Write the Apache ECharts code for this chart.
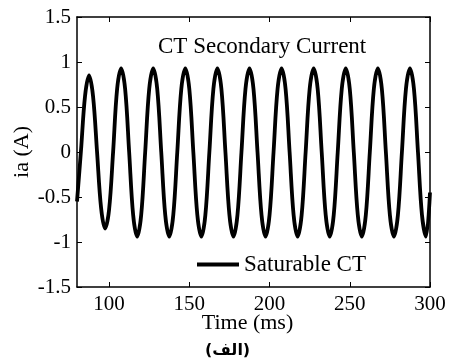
<!DOCTYPE html>
<html>
<head>
<meta charset="utf-8">
<script src="https://cdn.jsdelivr.net/npm/echarts@6/dist/echarts.min.js"></script>
<style>html,body{margin:0;padding:0;background:#fff}#c{width:453px;height:364px}</style>
</head>
<body>
<div id="c"></div>
<script>
const timeMs = [
  80, 82.5, 85, 87.5, 90, 92.5, 95, 97.5, 100, 102.5,
  105, 107.5, 110, 112.5, 115, 117.5, 120, 122.5, 125, 127.5,
  130, 132.5, 135, 137.5, 140, 142.5, 145, 147.5, 150, 152.5,
  155, 157.5, 160, 162.5, 165, 167.5, 170, 172.5, 175, 177.5,
  180, 182.5, 185, 187.5, 190, 192.5, 195, 197.5, 200, 202.5,
  205, 207.5, 210, 212.5, 215, 217.5, 220, 222.5, 225, 227.5,
  230, 232.5, 235, 237.5, 240, 242.5, 245, 247.5, 250, 252.5,
  255, 257.5, 260, 262.5, 265, 267.5, 270, 272.5, 275, 277.5,
  280, 282.5, 285, 287.5, 290, 292.5, 295, 297.5, 300
];
const saturableCT = [
  -0.55, 0.02, 0.62, 0.85, 0.62, 0.0, -0.62, -0.85, -0.64, 0.0,
  0.7, 0.93, 0.7, 0.0, -0.7, -0.94, -0.7, 0.0, 0.7, 0.93,
  0.7, 0.0, -0.7, -0.94, -0.7, 0.0, 0.7, 0.93, 0.7, 0.0,
  -0.7, -0.94, -0.7, 0.0, 0.7, 0.93, 0.7, 0.0, -0.7, -0.94,
  -0.7, 0.0, 0.7, 0.93, 0.7, 0.0, -0.7, -0.94, -0.7, 0.0,
  0.7, 0.93, 0.7, 0.0, -0.7, -0.94, -0.7, 0.0, 0.7, 0.93,
  0.7, 0.0, -0.7, -0.94, -0.7, 0.0, 0.7, 0.93, 0.7, 0.0,
  -0.7, -0.94, -0.7, 0.0, 0.7, 0.93, 0.7, 0.0, -0.7, -0.94,
  -0.7, 0.0, 0.7, 0.93, 0.7, 0.0, -0.7, -0.94, -0.45
];
const xTicks = [100, 150, 200, 250, 300];
const yTicks = [-1.5, -1, -0.5, 0, 0.5, 1, 1.5];
const seriesName = 'Saturable CT';
const titleText = 'CT Secondary Current';
const xName = 'Time (ms)';
const yName = 'ia (A)';
const captionText = '(الف)';

const font = 'Liberation Serif, Times New Roman, serif';
const chart = echarts.init(document.getElementById('c'), null, {renderer: 'canvas'});
function axisParts(ticks) {
  const tick = {show: true, inside: true, length: 5, lineStyle: {color: '#000', width: 1}};
  if (ticks) tick.customValues = ticks;
  return {
    axisLine: {show: true, onZero: false, lineStyle: {color: '#000', width: 1.5}},
    axisTick: tick,
    splitLine: {show: false}
  };
}
chart.setOption({
  animation: false,
  backgroundColor: '#fff',
  grid: {left: 77, right: 23, top: 17, bottom: 77, containLabel: false},
  title: {
    text: titleText, left: 153, top: 30,
    textStyle: {fontFamily: font, fontSize: 23, fontWeight: 'normal', color: '#000'}
  },
  legend: {
    data: [seriesName], left: 192, top: 248,
    icon: 'rect', itemWidth: 42, itemHeight: 4, itemGap: 5,
    textStyle: {fontFamily: font, fontSize: 23, color: '#000'},
    backgroundColor: 'transparent'
  },
  xAxis: [
    Object.assign({
      type: 'value', min: 80, max: 300, position: 'bottom',
      name: xName, nameLocation: 'middle', nameGap: 25, nameMoveOverlap: false,
      nameTextStyle: {fontFamily: font, fontSize: 22, color: '#000', padding: [0, 12, 0, 0]},
      axisLabel: {
        fontFamily: font, fontSize: 21, color: '#000', margin: 7,
        customValues: xTicks
      }
    }, axisParts(xTicks)),
    Object.assign({
      type: 'value', min: 80, max: 300, position: 'top',
      axisLabel: {show: false}
    }, axisParts(xTicks))
  ],
  yAxis: [
    Object.assign({
      type: 'value', min: -1.5, max: 1.5, interval: 0.5, position: 'left',
      name: yName, nameLocation: 'middle', nameGap: 44, nameRotate: 90, nameMoveOverlap: false,
      nameTextStyle: {fontFamily: font, fontSize: 22, color: '#000'},
      axisLabel: {fontFamily: font, fontSize: 21, color: '#000', margin: 6}
    }, axisParts(null)),
    Object.assign({
      type: 'value', min: -1.5, max: 1.5, interval: 0.5, position: 'right',
      axisLabel: {show: false}
    }, axisParts(null))
  ],
  graphic: [{
    type: 'text', left: 205, top: 343,
    style: {text: captionText, fontFamily: 'DejaVu Sans, Noto Sans, sans-serif', fontSize: 16, fontWeight: 'bold', fill: '#000'}
  }],
  series: [{
    name: seriesName, type: 'line', xAxisIndex: 0, yAxisIndex: 0,
    data: timeMs.map((t, i) => [t, saturableCT[i]]),
    smooth: 0.35, showSymbol: false, symbol: 'none',
    lineStyle: {color: '#000', width: 3.8},
    itemStyle: {color: '#000'}
  }]
});
</script>
</body>
</html>
